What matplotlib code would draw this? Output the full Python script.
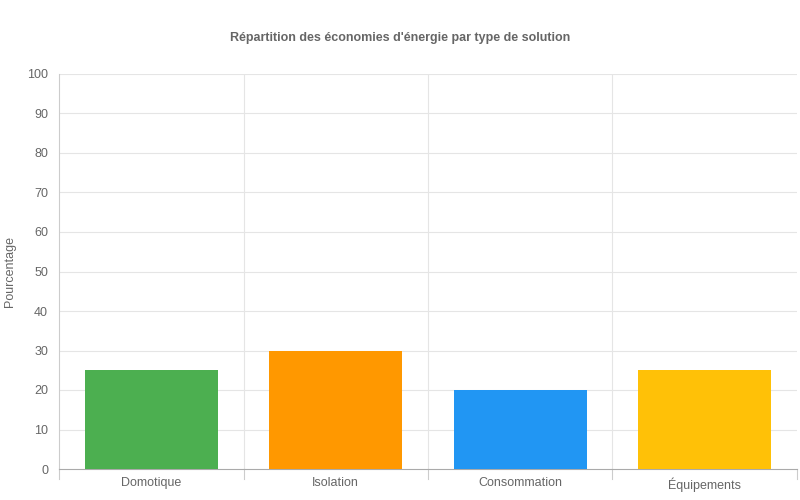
import matplotlib

matplotlib.use("Agg")
import matplotlib.pyplot as plt

categories = ["Domotique", "Isolation", "Consommation", "Équipements"]
values = [25, 30, 20, 25]
colors = ["#4CAF50", "#FF9800", "#2196F3", "#FFC107"]

plt.rcParams["font.family"] = ["Liberation Sans", "DejaVu Sans"]

fig = plt.figure(figsize=(8, 5), dpi=100)
ax = fig.add_axes([0.074, 0.062, 0.922, 0.79])

x = list(range(len(categories)))
ax.bar(x, values, width=0.72, color=colors, zorder=3)

ax.set_xlim(-0.5, len(categories) - 0.5)
ax.set_ylim(0, 100)
ax.set_yticks(range(0, 101, 10))
ax.set_xticks(x)
ax.set_xticklabels(categories, fontsize=9, color="#666666")
ax.tick_params(axis="y", labelsize=9, colors="#666666", length=0, pad=8)
ax.tick_params(axis="x", length=0, pad=6)

# grid lines: horizontal at ticks, vertical at category boundaries
for y in range(10, 101, 10):
    ax.axhline(y, color="#e5e5e5", linewidth=0.8, zorder=1)
for b in [i + 0.5 for i in range(len(categories) - 1)]:
    ax.axvline(b, color="#e5e5e5", linewidth=0.8, zorder=1)
for b in [i - 0.5 for i in range(len(categories) + 1)]:
    ax.plot([b, b], [0, -2.5], color="#cccccc", linewidth=0.8, clip_on=False)

for side in ["top", "right"]:
    ax.spines[side].set_visible(False)
ax.spines["left"].set_color("#cccccc")
ax.spines["bottom"].set_color("#aaaaaa")

ax.set_ylabel("Pourcentage", fontsize=9, color="#666666", labelpad=8)
fig.suptitle("Répartition des économies d'énergie par type de solution",
             x=0.5, y=0.935, fontsize=9, fontweight="bold", color="#666666")

fig.savefig("out.png", dpi=100)
